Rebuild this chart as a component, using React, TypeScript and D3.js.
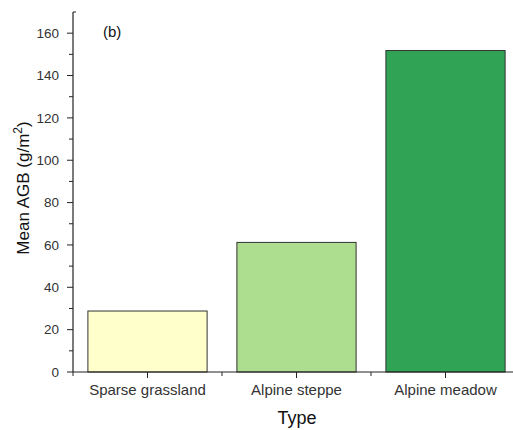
import React from "react";
import * as d3 from "d3";

const categories = ["Sparse grassland", "Alpine steppe", "Alpine meadow"];
const values = [28.8, 61.2, 151.8];
const colors = ["#ffffcc", "#addd8e", "#31a354"];
const yTicks = [0, 20, 40, 60, 80, 100, 120, 140, 160];

export default function App() {
  const W = 513, H = 430;
  const x0 = 73, yBase = 372, yTop = 12;
  const bandW = 149;
  const x = d3.scaleBand<string>().domain(categories).range([x0, x0 + bandW * 3]).paddingInner(0.2).paddingOuter(0.1);
  const y = d3.scaleLinear().domain([0, 170]).range([yBase, yTop]);
  const minor = d3.range(10, 170, 20);
  const font = "Arial, 'Liberation Sans', sans-serif";
  return (
    <svg width={W} height={H} style={{ position: "absolute", left: 0, top: 0 }} fontFamily={font}>
      <rect width={W} height={H} fill="#fff" />
      {categories.map((c, i) => (
        <rect key={c} x={x(c)!} y={y(values[i])} width={x.bandwidth()} height={yBase - y(values[i])}
          fill={colors[i]} stroke="#333" strokeWidth={1} />
      ))}
      <line x1={x0} x2={x0} y1={yTop} y2={yBase} stroke="#222" strokeWidth={1.2} />
      <line x1={x0} x2={x0 + 3} y1={yTop} y2={yTop} stroke="#222" strokeWidth={1} />
      <line x1={x0} x2={W} y1={yBase} y2={yBase} stroke="#222" strokeWidth={1.2} />
      {yTicks.map(t => (
        <g key={t}>
          <line x1={x0 - 6} x2={x0} y1={y(t)} y2={y(t)} stroke="#222" />
          <text x={x0 - 14} y={y(t)} dy="0.35em" textAnchor="end" fontSize={13.5} fill="#333">{t}</text>
        </g>
      ))}
      {minor.map(t => (
        <line key={t} x1={x0 - 4} x2={x0} y1={y(t)} y2={y(t)} stroke="#222" />
      ))}
      {categories.map((c, i) => (
        <g key={c}>
          <line x1={x(c)! + x.bandwidth() / 2} x2={x(c)! + x.bandwidth() / 2} y1={yBase} y2={yBase + 6} stroke="#222" />
          <line x1={x0 + bandW * i} x2={x0 + bandW * i} y1={yBase} y2={yBase + 4} stroke="#222" />
          <text x={x(c)! + x.bandwidth() / 2} y={yBase + 23} textAnchor="middle" fontSize={15} fill="#333">{c}</text>
        </g>
      ))}
      <text x={297} y={424} textAnchor="middle" fontSize={18} fill="#111">Type</text>
      <text transform={`translate(29,${(yTop + yBase) / 2 - 4}) rotate(-90)`} textAnchor="middle" fontSize={17} fill="#111">
        Mean AGB (g/m<tspan dy="-7" fontSize={12}>2</tspan><tspan dy="7">)</tspan>
      </text>
      <text x={103} y={37} fontSize={15} fill="#111">(b)</text>
    </svg>
  );
}
